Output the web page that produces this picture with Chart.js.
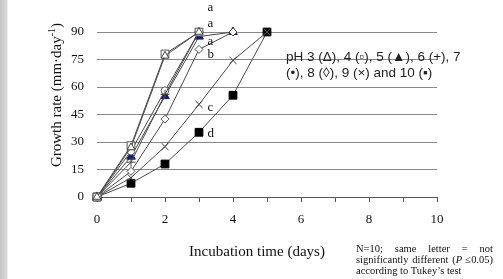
<!DOCTYPE html>
<html><head><meta charset="utf-8">
<script src="https://cdn.jsdelivr.net/npm/chart.js@4/dist/chart.umd.min.js"></script>
<style>
html,body{margin:0;padding:0;background:#fff;}
#wrap{position:relative;width:503px;height:279px;background:linear-gradient(to right,#c6c6c6 0px,#d8d8d8 7px,#ffffff 8px);}
canvas{position:absolute;left:0;top:0;}
</style></head>
<body><div id="wrap"><canvas id="c" width="503" height="279"></canvas></div>
<script>
// ---- data ----
const days = [0, 1, 2, 3, 4, 5];
const pH3  = [0, 27, 77, 90];
const pH4  = [0, 28, 78, 90];
const pH5  = [0, 22, 55, 87.5, 90];
const pH6  = [0, 19, 56, 90];
const pH7  = [0, 25, 58, 90];
const pH8  = [0, 14, 42.5, 80.5, 90];
const pH9  = [0, 10.5, 27.5, 50.5, 74.5, 90];
const pH10 = [0, 7.5, 18, 35.3, 55.5, 90];
const yTicks = [0, 15, 30, 45, 60, 75, 90];
const xTickLabels = [0, 2, 4, 6, 8, 10];
const letters = ['a', 'a', 'a', 'b', 'c', 'd'];
const letterX = [3.25, 3.25, 3.25, 3.25, 3.25, 3.25];
const letterY = [103.5, 94.5, 85, 77.5, 49, 34.5];
const legendLines = ['pH 3 (\u0394), 4 (\u25AB), 5 (\u25B2), 6 (+), 7', '(\u2022), 8 (\u25CA), 9 (\u00D7) and 10 (\u25AA)'];
const footLines = ['N=10; same letter = not', 'significantly different (P \u22640.05)', 'according to Tukey\u2019s test'];

const serif = '"Liberation Serif","Times New Roman",serif';
const sans = '"Liberation Sans",Arial,"DejaVu Sans",sans-serif';

function mk(label, vals, style, fill, border, radius) {
  return {
    label, data: vals.map((v, i) => ({x: days[i], y: v})),
    borderColor: '#4a4a4a', borderWidth: 1, tension: 0,
    pointStyle: style, pointRadius: radius || 4.5, pointBackgroundColor: fill,
    pointBorderColor: border || '#333', pointBorderWidth: 1, clip: false
  };
}
const datasets = [
  mk('pH 3', pH3, 'triangle', '#fff', '#444'),
  mk('pH 4', pH4, 'rect', '#fff', '#555', 5.5),
  mk('pH 6', pH6, 'cross', '#fff', '#444'),
  mk('pH 7', pH7, 'circle', '#fff', '#555', 3.8),
  mk('pH 8', pH8, 'rectRot', '#fff', '#555', 4),
  mk('pH 9', pH9, 'crossRot', '#fff', '#444', 5),
  mk('pH 5', pH5, 'triangle', '#141a6e', '#141a6e', 5),
  mk('pH 10', pH10, 'rect', '#000', '#000', 5.5)
];

const textPlugin = {
  id: 'texts',
  afterDraw(chart) {
    const c = chart.ctx, xs = chart.scales.x, ys = chart.scales.y;
    c.save();
    c.fillStyle = '#111';
    // letters
    c.font = '13px ' + serif; c.textAlign = 'left'; c.textBaseline = 'middle';
    letters.forEach((l, i) => c.fillText(l, xs.getPixelForValue(letterX[i]), ys.getPixelForValue(letterY[i])));
    // legend note
    c.font = '13.5px ' + sans; c.fillStyle = '#222';
    c.fillText(legendLines[0], 286, 57);
    c.fillText(legendLines[1], 286, 73);
    // axis titles
    c.fillStyle = '#111';
    c.font = '15px ' + serif; c.textAlign = 'center';
    c.fillText('Incubation time (days)', 257, 252);
    c.save();
    c.translate(57, 95); c.rotate(-Math.PI / 2);
    const a = 'Growth rate (mm\u00B7day', sup = '-1', b = ')';
    c.font = '15px ' + serif; const wa = c.measureText(a).width, wb = c.measureText(b).width;
    c.font = '10px ' + serif; const ws = c.measureText(sup).width;
    let x0 = -(wa + ws + wb) / 2;
    c.textAlign = 'left';
    c.font = '15px ' + serif; c.fillText(a, x0, 0);
    c.font = '10px ' + serif; c.fillText(sup, x0 + wa, -5);
    c.font = '15px ' + serif; c.fillText(b, x0 + wa + ws, 0);
    c.restore();
    // footnote, justified
    c.font = '10.5px ' + serif; c.textAlign = 'left';
    const L = 356, W = 137;
    footLines.forEach((line, i) => {
      const y = 249 + i * 11;
      if (i === footLines.length - 1) { c.fillText(line, L, y); return; }
      const words = line.split(' ');
      const tw = words.reduce((s, w) => s + c.measureText(w).width, 0);
      const gap = (W - tw) / (words.length - 1);
      let x = L;
      words.forEach(w => {
        if (w === '(P') { c.fillText('(', x, y); const pw = c.measureText('(').width; c.font = 'italic 10.5px ' + serif; c.fillText('P', x + pw, y); c.font = '10.5px ' + serif; }
        else c.fillText(w, x, y);
        x += c.measureText(w).width + gap;
      });
    });
    c.restore();
  }
};

new Chart(document.getElementById('c'), {
  type: 'line',
  data: {datasets},
  options: {
    responsive: false, animation: false,
    layout: {padding: {top: 32, right: 66, left: 0, bottom: 0}},
    plugins: {legend: {display: false}, tooltip: {enabled: false}},
    scales: {
      x: {
        type: 'linear', min: 0, max: 10,
        ticks: {stepSize: 1, autoSkip: false, maxRotation: 0, padding: 10, color: '#111',
          font: {family: serif, size: 13},
          callback: v => xTickLabels.includes(v) ? String(v) : ''},
        grid: {drawOnChartArea: false, tickLength: 5, color: '#555'},
        border: {color: '#555'},
        afterFit: s => { s.height = 82; }
      },
      y: {
        min: 0, max: 90,
        afterBuildTicks: s => { s.ticks = yTicks.map(v => ({value: v})); },
        ticks: {padding: 13, color: '#111', font: {family: serif, size: 13}},
        grid: {drawTicks: false, color: '#888'},
        border: {display: false},
        afterFit: s => { s.width = 97; }
      }
    }
  },
  plugins: [textPlugin]
});
</script></body></html>
